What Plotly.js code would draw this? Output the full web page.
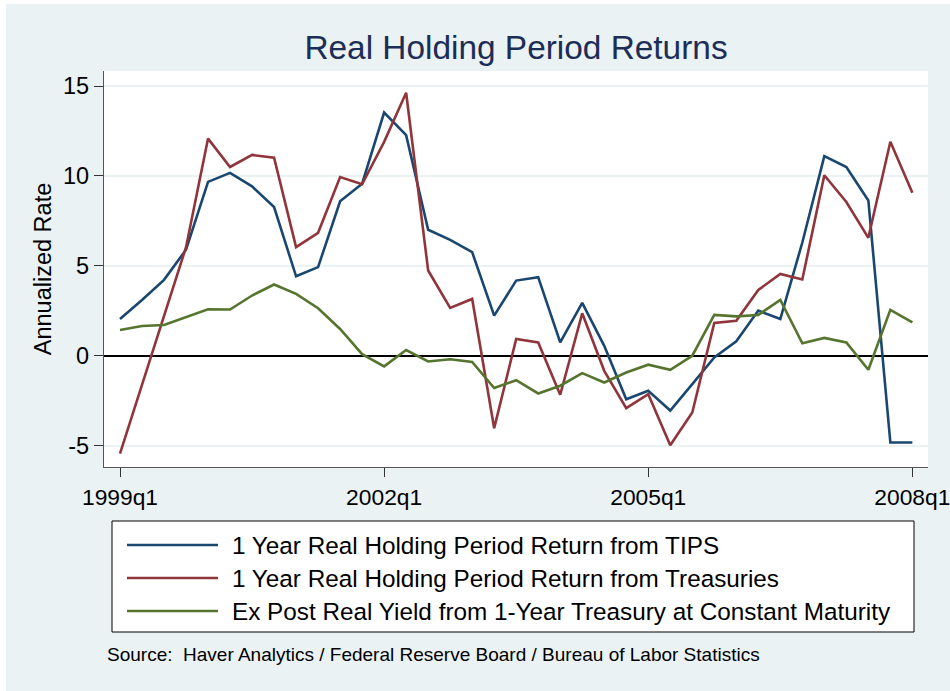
<!DOCTYPE html>
<html>
<head>
<meta charset="utf-8">
<script src="https://cdn.plot.ly/plotly-3.0.1.min.js"></script>
<style>
  html, body { margin: 0; padding: 0; background: #ffffff; width: 950px; height: 691px; overflow: hidden; }
  #chart { position: absolute; left: 6px; top: 4px; width: 944px; height: 687px; }
</style>
</head>
<body>
<div id="chart"></div>
<script>
// ---------------- data ----------------
const quarters = [
  "1999q1","1999q2","1999q3","1999q4",
  "2000q1","2000q2","2000q3","2000q4",
  "2001q1","2001q2","2001q3","2001q4",
  "2002q1","2002q2","2002q3","2002q4",
  "2003q1","2003q2","2003q3","2003q4",
  "2004q1","2004q2","2004q3","2004q4",
  "2005q1","2005q2","2005q3","2005q4",
  "2006q1","2006q2","2006q3","2006q4",
  "2007q1","2007q2","2007q3","2007q4",
  "2008q1"
];
const tipsReturn = [
  2.04, 3.10, 4.22, 5.90, 9.67, 10.17, 9.42, 8.27, 4.42, 4.93, 8.59, 9.57,
  13.53, 12.27, 7.01, 6.45, 5.76, 2.23, 4.18, 4.37, 0.74, 2.94, 0.55, -2.42,
  -1.95, -3.05, -1.58, -0.09, 0.80, 2.51, 2.04, 6.30, 11.10, 10.50, 8.64, -4.83,
  -4.83
];
const treasuryReturn = [
  -5.45, -1.62, 2.21, 6.04, 12.08, 10.50, 11.17, 11.02, 6.04, 6.84, 9.94, 9.54,
  11.90, 14.63, 4.74, 2.66, 3.16, -4.03, 0.93, 0.74, -2.17, 2.36, -0.84, -2.92,
  -2.14, -4.98, -3.16, 1.82, 1.95, 3.66, 4.55, 4.24, 10.04, 8.55, 6.56, 11.90,
  9.07
];
const expostYield = [
  1.43, 1.65, 1.71, 2.14, 2.58, 2.57, 3.35, 3.96, 3.44, 2.64, 1.49, 0.09,
  -0.59, 0.32, -0.32, -0.20, -0.35, -1.80, -1.36, -2.10, -1.67, -0.97, -1.49, -0.93,
  -0.50, -0.78, 0.00, 2.27, 2.19, 2.27, 3.10, 0.69, 0.99, 0.74, -0.78, 2.55,
  1.86
];
const seriesNames = [
  "1 Year Real Holding Period Return from TIPS",
  "1 Year Real Holding Period Return from Treasuries",
  "Ex Post Real Yield from 1-Year Treasury at Constant Maturity"
];
const xTickLabels = ["1999q1", "2002q1", "2005q1", "2008q1"];
const yTickValues = [-5, 0, 5, 10, 15];
const yTickLabels = ["-5", "0", "5", "10", "15"];
const chartTitle = "Real Holding Period Returns";
const yAxisTitle = "Annualized Rate";
const sourceNote = "Source:  Haver Analytics / Federal Reserve Board / Bureau of Labor Statistics";

// ---------------- styling ----------------
const colors = ["#1a476f", "#90353b", "#55752f"];
const bg = "#EAF2F3";
const FONT = "Liberation Sans, Arial, Helvetica, sans-serif";
const seriesData = [tipsReturn, treasuryReturn, expostYield];

// plot area geometry (in div pixels)
const DIV_W = 944, DIV_H = 687;
const M = { l: 98, r: 22, t: 67, b: 224 };
const PW = DIV_W - M.l - M.r, PH = DIV_H - M.t - M.b;
// helpers converting div pixels to paper coordinates
const px = x => (x - M.l) / PW;
const py = y => (DIV_H - M.b - y) / PH;

const traces = seriesData.map((vals, i) => ({
  type: "scatter",
  mode: "lines",
  x: quarters,
  y: vals,
  name: seriesNames[i],
  line: { color: colors[i], width: 2.6 },
  hoverinfo: "x+y+name"
}));

// custom legend (box, line samples, labels)
const shapes = [];
const annotations = [];
const legTop = 517, legBot = 628, legLeft = 106, legRight = 908;
shapes.push({
  type: "rect", xref: "paper", yref: "paper",
  x0: px(legLeft), x1: px(legRight), y0: py(legBot), y1: py(legTop),
  line: { color: "#000000", width: 1 }, fillcolor: "#ffffff", layer: "above"
});
const rowY = [541, 574, 607];
seriesNames.forEach((name, i) => {
  shapes.push({
    type: "line", xref: "paper", yref: "paper",
    x0: px(121), x1: px(212), y0: py(rowY[i]), y1: py(rowY[i]),
    line: { color: colors[i], width: 2.6 }, layer: "above"
  });
  annotations.push({
    xref: "paper", yref: "paper", x: px(224), y: py(rowY[i]),
    xanchor: "left", yanchor: "middle", showarrow: false,
    text: name, font: { family: FONT, size: 24.3, color: "#000000" }
  });
});
annotations.push({
  xref: "paper", yref: "paper", x: px(99), y: py(650),
  xanchor: "left", yanchor: "middle", showarrow: false,
  text: sourceNote, font: { family: FONT, size: 19, color: "#000000" }
});

const layout = {
  width: DIV_W, height: DIV_H,
  paper_bgcolor: bg, plot_bgcolor: "#ffffff",
  margin: M,
  showlegend: false,
  font: { family: FONT, color: "#000000" },
  title: {
    text: chartTitle,
    font: { family: FONT, size: 33.4, color: "#1c2d56" },
    x: 0.5, xref: "paper", xanchor: "center",
    y: 1 - 43 / DIV_H, yref: "container", yanchor: "middle"
  },
  xaxis: {
    type: "category",
    range: [-0.727, 36.71],
    tickmode: "array", tickvals: xTickLabels, ticktext: xTickLabels,
    ticks: "outside", ticklen: 9, tickwidth: 1, tickcolor: "#333333",
    showline: true, linecolor: "#555555", linewidth: 1.2,
    showgrid: false, zeroline: false,
    tickfont: { family: FONT, size: 22.8, color: "#000000" }
  },
  yaxis: {
    range: [-6.19, 15.84],
    tickmode: "array", tickvals: yTickValues, ticktext: yTickLabels,
    ticks: "outside", ticklen: 9, tickwidth: 1, tickcolor: "#333333",
    showline: true, linecolor: "#555555", linewidth: 1.2,
    showgrid: true, gridcolor: bg, gridwidth: 2,
    zeroline: true, zerolinecolor: "#000000", zerolinewidth: 2.2,
    tickfont: { family: FONT, size: 23.5, color: "#000000" },
    title: { text: yAxisTitle, font: { family: FONT, size: 23.5, color: "#000000" }, standoff: 4 }
  },
  shapes: shapes,
  annotations: annotations
};

Plotly.newPlot("chart", traces, layout, { displayModeBar: false, staticPlot: true });
</script>
</body>
</html>
